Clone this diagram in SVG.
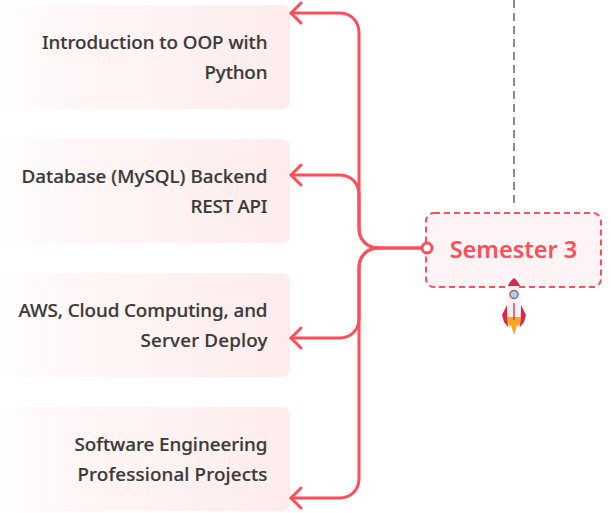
<svg xmlns="http://www.w3.org/2000/svg" width="611" height="513" viewBox="0 0 611 513">
<style>
.box{fill:url(#g)}
.t{font-family:"Noto Sans","Open Sans","Liberation Sans",sans-serif;font-size:18.8px;font-weight:500;fill:#3a3a3a;text-anchor:end;stroke:#3a3a3a;stroke-width:.2px}
.c{fill:none;stroke:#ff4d5a;stroke-width:3;stroke-linecap:round;stroke-linejoin:round}
</style>
<defs>
<linearGradient id="g" x1="0" x2="1" y1="0" y2="0"><stop offset="0" stop-color="#fff" /><stop offset=".3" stop-color="#fff6f6" /><stop offset="1" stop-color="#feecec" /></linearGradient>
</defs>
<g id="trunk"><path d="M514 0V208" fill="none" stroke="#8a8a8a" stroke-width="2" stroke-dasharray="8 5" /></g>
<g id="n1"><rect class="box" x="-10" y="5" width="300" height="104" rx="8" /><text class="t" x="267.500" y="48.500" textLength="225.500">Introduction to OOP with</text><text class="t" x="267.500" y="78.500" textLength="63">Python</text></g>
<g id="n2"><rect class="box" x="-10" y="139" width="300" height="104" rx="8" /><text class="t" x="267.500" y="182.500" textLength="246">Database (MySQL) Backend</text><text class="t" x="267.500" y="212.500" textLength="77">REST API</text></g>
<g id="n3"><rect class="box" x="-10" y="273" width="300" height="104" rx="8" /><text class="t" x="267.500" y="316.500" textLength="249">AWS, Cloud Computing, and</text><text class="t" x="267.500" y="346.500" textLength="127">Server Deploy</text></g>
<g id="n4"><rect class="box" x="-10" y="407" width="300" height="104" rx="8" /><text class="t" x="267.500" y="450.500" textLength="193">Software Engineering</text><text class="t" x="267.500" y="480.500" textLength="190">Professional Projects</text></g>
<g id="semester"><rect x="426" y="213" width="175" height="74" rx="8" fill="#fff4f5" stroke="#ff4d5a" stroke-width="2" stroke-dasharray="6 4" /><text x="513.500" y="258" text-anchor="middle" font-family="'Noto Sans','Open Sans','Liberation Sans',sans-serif" font-size="23.500" font-weight="600" fill="#ff4d5a">Semester 3</text></g>
<g id="connectors">
<path class="c" d="M427 248H379C367 248 359 240 359 228V33C359 21 351 13 339 13H291" />
<path class="c" d="M379 248C367 248 359 240 359 228V195C359 183 351 175 339 175H291" />
<path class="c" d="M427 248H379C367 248 359 256 359 268V318C359 330 351 338 339 338H291" />
<path class="c" d="M379 248C367 248 359 256 359 268V478C359 490 351 498 339 498H291" />
<path class="c" d="M301 3L291 13L301 23M301 165L291 175L301 185M301 328L291 338L301 348M301 488L291 498L301 508" />
<circle cx="427" cy="248" r="5" fill="#fff" stroke="#ff4d5a" stroke-width="3" />
</g>
<g id="rocket">
<path d="M507 305L502 315L504 322L508 327Z" fill="#d8274a" />
<path d="M521 305L526 315L524 322L520 327Z" fill="#d8274a" />
<path d="M514 278C510 283 507.500 290 507.500 297V318H520.500V297C520.500 290 518 283 514 278Z" fill="#f6f0f3" />
<path d="M514 278C511 280 509 283 508 286H520C519 283 517 280 514 278Z" fill="#d8274a" />
<path d="M507 317L509 327L511 325L514 335L517 325L519 327L521 317Z" fill="#f5a623" />
<path d="M514 303V320" stroke="#d8405a" stroke-width="1.500" />
<circle cx="514" cy="294.500" r="4" fill="#a8d4f0" stroke="#a85a78" stroke-width="1.500" />
</g>
</svg>
